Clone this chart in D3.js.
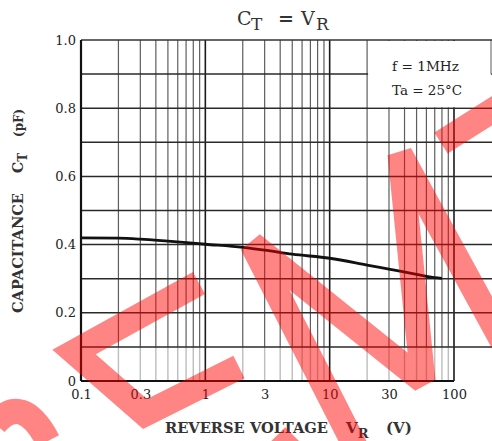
<!DOCTYPE html>
<html><head><meta charset="utf-8">
<script src="https://cdn.jsdelivr.net/npm/d3@7"></script>
<style>html,body{margin:0;padding:0;background:#fff;}svg{display:block;}</style>
</head><body>
<script>
// ---- data ----
const voltage = [0.1, 0.2, 0.3, 0.5, 1, 2, 3, 5, 10, 20, 30, 50, 70, 80];
const capacitance = [0.420, 0.419, 0.416, 0.410, 0.401, 0.392, 0.384, 0.372, 0.360, 0.340, 0.328, 0.313, 0.303, 0.301];
const xTickValues = [0.1, 0.3, 1, 3, 10, 30, 100];
const xTickLabels = ["0.1", "0.3", "1", "3", "10", "30", "100"];
const yTickValues = [0, 0.2, 0.4, 0.6, 0.8, 1.0];
const yTickLabels = ["0", "0.2", "0.4", "0.6", "0.8", "1.0"];
const conditions = ["f = 1MHz", "Ta = 25°C"];

const W = 492, H = 441;
const svg = d3.select("body").append("svg").attr("width", W).attr("height", H);
const x = d3.scaleLog().domain([0.1, 100]).range([81, 454]);
const y = d3.scaleLinear().domain([0, 1]).range([381, 40]);
const serif = "'DejaVu Serif', 'Liberation Serif', serif";

// grid: vertical lines
const vlines = [];
for (let d = 0.1; d < 100; d *= 10) for (let k = 1; k <= 9; k++) vlines.push(+(d * k).toPrecision(3));
vlines.push(100);
const g = svg.append("g");
vlines.forEach(v => {
  const major = [0.1, 1, 10, 100].includes(v);
  if (v === 0.1) return;
  g.append("line").attr("x1", x(v)).attr("x2", x(v)).attr("y1", y(1)).attr("y2", y(0.1))
    .attr("stroke", major ? "#1a1a1a" : "#5e5e5e").attr("stroke-width", major ? 1.6 : 1.2);
  g.append("line").attr("x1", x(v)).attr("x2", x(v)).attr("y1", y(0.1)).attr("y2", y(0))
    .attr("stroke", major ? "#1a1a1a" : "#bdbdbd").attr("stroke-width", major ? 1.6 : 1.4);
});
// horizontal lines
d3.range(1, 10).forEach(i => {
  const v = i / 10;
  g.append("line").attr("x1", x(0.1)).attr("x2", W).attr("y1", y(v)).attr("y2", y(v))
    .attr("stroke", "#2a2a2a").attr("stroke-width", 1.5);
});
// conditions box (white area, grid removed)
g.append("rect").attr("x", x(20) + 1).attr("y", y(1) + 1).attr("width", W - x(20) - 2).attr("height", y(0.8) - y(1) - 2).attr("fill", "#fff");
g.append("line").attr("x1", 491).attr("x2", 491).attr("y1", y(1)).attr("y2", y(0.9)).attr("stroke", "#777").attr("stroke-width", 1.2);
conditions.forEach((t, i) => {
  svg.append("text").attr("x", 392).attr("y", 71 + i * 24).attr("font-family", serif).attr("font-size", 13)
    .attr("fill", "#222").attr("textLength", i ? 70 : 67).attr("lengthAdjust", "spacingAndGlyphs").text(t);
});
// frame
svg.append("line").attr("x1", x(0.1)).attr("x2", W).attr("y1", y(1)).attr("y2", y(1)).attr("stroke", "#333").attr("stroke-width", 1.6);
svg.append("line").attr("x1", x(0.1)).attr("x2", x(0.1)).attr("y1", y(1)).attr("y2", y(0)).attr("stroke", "#111").attr("stroke-width", 2.2);
svg.append("line").attr("x1", x(0.1)).attr("x2", x(100)).attr("y1", y(0)).attr("y2", y(0)).attr("stroke", "#111").attr("stroke-width", 2.2);

// axes labels via d3 axes
const xAxis = d3.axisBottom(x).tickValues(xTickValues).tickFormat((d, i) => xTickLabels[i]).tickSize(0).tickPadding(9);
const xa = svg.append("g").attr("transform", `translate(0,${y(0)})`).call(xAxis);
xa.select(".domain").remove();
xa.selectAll("text").attr("font-family", serif).attr("font-size", 13).attr("fill", "#222");
const yAxis = d3.axisLeft(y).tickValues(yTickValues).tickFormat((d, i) => yTickLabels[i]).tickSize(0).tickPadding(5);
const ya = svg.append("g").attr("transform", `translate(${x(0.1)},0)`).call(yAxis);
ya.select(".domain").remove();
ya.selectAll("text").attr("font-family", serif).attr("font-size", 13).attr("fill", "#222");

// curve
const line = d3.line().x((d, i) => x(voltage[i])).y(d => y(d)).curve(d3.curveMonotoneX);
svg.append("path").attr("d", line(capacitance)).attr("fill", "none").attr("stroke", "#111").attr("stroke-width", 2.8);

// title
const tg = svg.append("g").attr("font-family", serif).attr("font-size", 19).attr("fill", "#333");
tg.append("text").attr("x", 237).attr("y", 25).text("C");
tg.append("text").attr("x", 251).attr("y", 30).attr("font-size", 17).text("T");
tg.append("text").attr("x", 278).attr("y", 25).attr("font-weight", "bold").text("=");
tg.append("text").attr("x", 301).attr("y", 25).text("V");
tg.append("text").attr("x", 316).attr("y", 30).attr("font-size", 17).text("R");

// x label
const xl = svg.append("text").attr("x", 165).attr("y", 433).attr("font-family", serif).attr("font-size", 15).attr("font-weight", "bold").attr("fill", "#333");
xl.append("tspan").attr("textLength", 163).attr("lengthAdjust", "spacingAndGlyphs").text("REVERSE VOLTAGE");
xl.append("tspan").attr("x", 346).text("V");
xl.append("tspan").attr("dy", 5).attr("font-size", 13).text("R");
xl.append("tspan").attr("x", 386).attr("dy", -5).text("(V)");

// y label
const yl = svg.append("text").attr("transform", "translate(23,313) rotate(-90)").attr("font-family", serif)
  .attr("font-size", 14).attr("font-weight", "bold").attr("fill", "#333");
yl.append("tspan").attr("textLength", 120).attr("lengthAdjust", "spacingAndGlyphs").text("CAPACITANCE");
yl.append("tspan").attr("x", 140).text("C");
yl.append("tspan").attr("dy", 4).attr("font-size", 12).text("T");
yl.append("tspan").attr("x", 176).attr("dy", -4).attr("font-size", 12).text("(pF)");

// watermark strokes
const wm = svg.append("g").attr("fill", "none").attr("stroke", "#ff0000").attr("stroke-opacity", 0.48).attr("stroke-width", 25);
wm.append("path").attr("d", "M-5,424 Q22,392 48,441");
wm.append("path").attr("d", "M199,283 L74,352 L145,414 L239,367").attr("stroke-linejoin", "miter");
wm.append("path").attr("d", "M357,450 L252,244 L423,381 L400,154 L507,350").attr("stroke-linejoin", "bevel");
wm.append("path").attr("d", "M441,143 L525,90");
wm.append("path").attr("d", "M280,450 L294,436");
</script>
</body></html>
